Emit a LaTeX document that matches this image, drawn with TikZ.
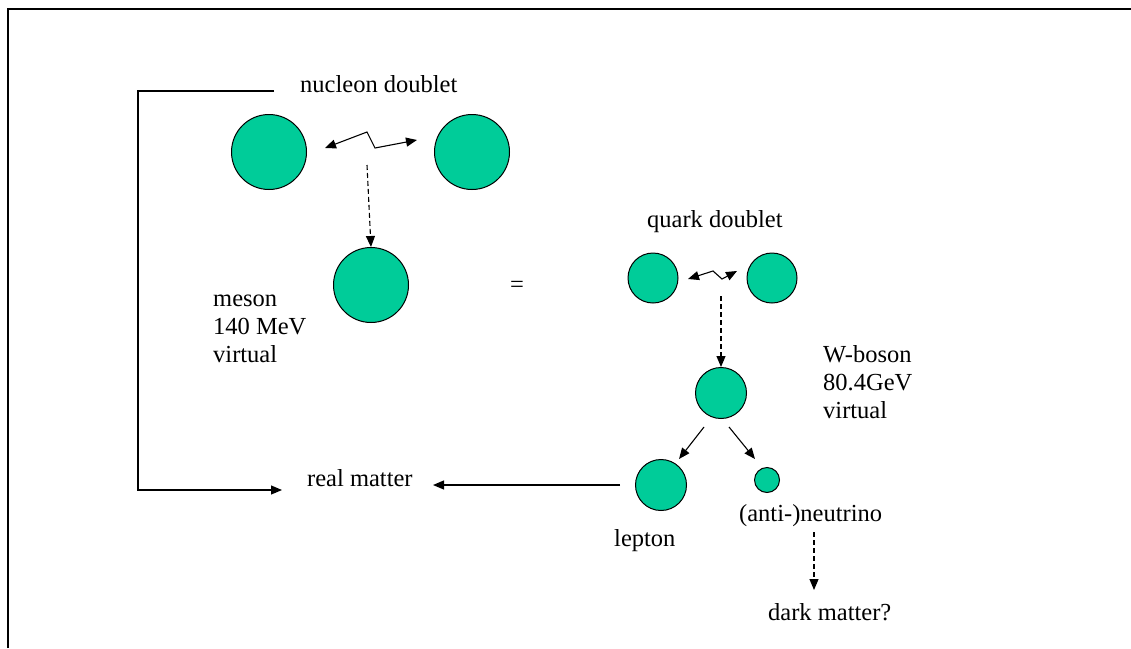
\documentclass[tikz,border=0pt]{standalone}
\usepackage{fontspec}
\setmainfont{Liberation Serif}
\usetikzlibrary{arrows.meta,calc}
\definecolor{ball}{RGB}{0,204,153}
\begin{document}
\begin{tikzpicture}[x=1pt,y=-1pt,
  ball/.style={circle,draw=black,line width=1pt,fill=ball,inner sep=0pt},
  lbl/.style={inner sep=0pt,font=\fontsize{24.5}{28}\selectfont,anchor=base west,align=left},
  arr/.style={line width=1.1pt,-{Triangle[length=11pt,width=9pt]}},
  darr/.style={line width=1.1pt,{Triangle[length=11pt,width=9pt]}-{Triangle[length=11pt,width=9pt]}},
  dasharr/.style={line width=1.1pt,dash pattern=on 5pt off 3pt,-{Triangle[length=11pt,width=9pt]}}]
\useasboundingbox (0,0) rectangle (1131,648);
% frame
\draw[line width=2.5pt] (8,648) -- (8,9) -- (1131,9);
% balls
\node[ball,minimum size=75pt] (nl) at (269,152) {};
\node[ball,minimum size=75pt] (nr) at (472,152) {};
\node[ball,minimum size=75pt] (me) at (371,285) {};
\node[ball,minimum size=50pt] (ql) at (653,278) {};
\node[ball,minimum size=50pt] (qr) at (772,278) {};
\node[ball,minimum size=51pt] (w) at (721,393) {};
\node[ball,minimum size=51pt] (le) at (661,485) {};
\node[ball,minimum size=25pt] (nu) at (767,480) {};
% labels
\node[lbl] (tnd) at (300,92) {nucleon doublet};
\node[lbl] (tqd) at (647,227) {quark doublet};
\node[lbl] (teq) at (510,292) {=};
\node[lbl] (tme) at (213,362) {meson\\140 MeV\\virtual};
\node[lbl] (tw) at (823,418) {W-boson\\80.4GeV\\virtual};
\node[lbl] (trm) at (307,486) {real matter};
\node[lbl] (tle) at (614,546) {lepton};
\node[lbl] (tnu) at (739,521) {(anti-)neutrino};
\node[lbl] (tdm) at (768,620) {dark matter?};
% nucleon exchange
\coordinate (z1) at (325,148);
\coordinate (z2) at (367,132);
\coordinate (z3) at (375,148);
\coordinate (z4) at (417,140);
\draw[darr] (z1) -- (z2) -- (z3) -- (z4);
\coordinate (d1) at (367,165);
\draw[dasharr] (d1) -- (me.north);
% quark exchange
\coordinate (y1) at (688,279);
\coordinate (y2) at (713,271);
\coordinate (y3) at (722,279);
\coordinate (y4) at (737,271);
\draw[darr] (y1) -- (y2) -- (y3) -- (y4);
\coordinate (d2) at (721,296);
\draw[dasharr] (d2) -- (w.north);
% W decay
\coordinate (w1) at (704,427);
\coordinate (w2) at (729,427);
\coordinate (l1) at (679,459);
\coordinate (n1) at (755,459);
\draw[arr] (w1) -- (l1);
\draw[arr] (w2) -- (n1);
% lepton to real matter
\coordinate (r1) at (620,485);
\coordinate (r2) at (433,485);
\draw[arr] (r1) -- (r2);
% bracket
\coordinate (b1) at (274,91);
\coordinate (b4) at (282,490);
\draw[arr] (b1) -- (138,91) -- (138,490) -- (b4);
% neutrino to dark matter
\coordinate (d3) at (814,532);
\coordinate (d4) at (814,590);
\draw[dasharr] (d3) -- (d4);
\end{tikzpicture}
\end{document}
